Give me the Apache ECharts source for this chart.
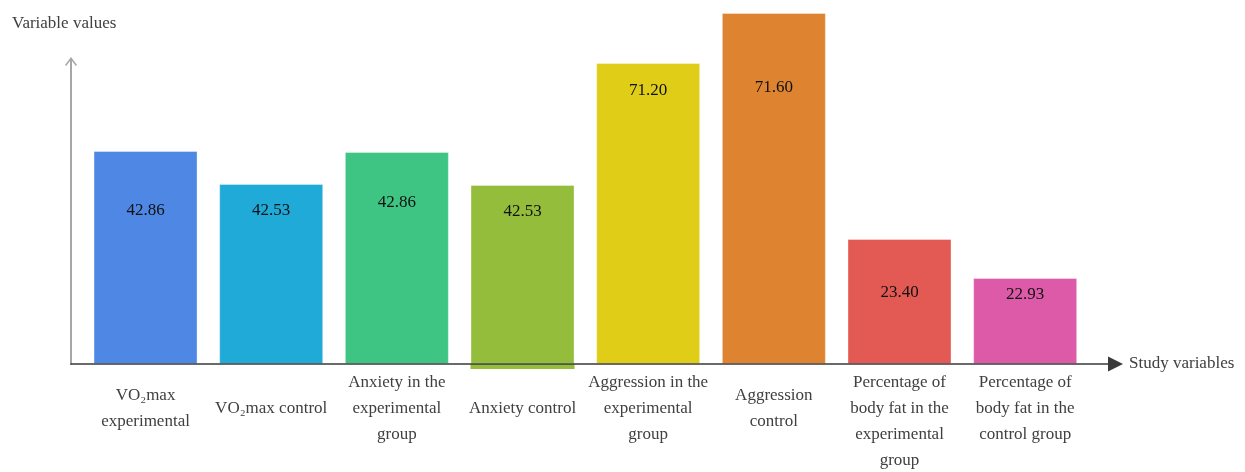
<!DOCTYPE html>
<html>
<head>
<meta charset="utf-8">
<script src="https://cdn.jsdelivr.net/npm/echarts@6/dist/echarts.min.js"></script>
<style>
  html, body { margin: 0; padding: 0; background: #fff; }
  #chart { width: 1245px; height: 472px; }
</style>
</head>
<body>
<div id="chart"></div>
<script>
// ---- data ----
const categories = [
  'VO₂max\nexperimental',
  'VO₂max control',
  'Anxiety in the\nexperimental\ngroup',
  'Anxiety control',
  'Aggression in the\nexperimental\ngroup',
  'Aggression\ncontrol',
  'Percentage of\nbody fat in the\nexperimental\ngroup',
  'Percentage of\nbody fat in the\ncontrol group'
];
const valueLabels = ['42.86', '42.53', '42.86', '42.53', '71.20', '71.60', '23.40', '22.93'];
// bar heights as drawn in the picture (drawing units)
const barHeights = [213, 180, 212, 179, 301, 351, 125, 86];
// small part of a bar drawn below the baseline in the picture
const belowBaseline = [null, null, null, -5, null, null, null, null];
const yAxisTitle = 'Variable values';
const xAxisTitle = 'Study variables';

// ---- styles ----
const barColors = ['#4e87e4', '#20aad8', '#3ec583', '#93bd3a', '#dfcd18', '#de8431', '#e35a54', '#dd5aa8'];
const labelOffsets = [60, 27, 51, 27, 28, 75, 54, 17];
const serif = 'Liberation Serif, Times New Roman, serif';
const textGrey = '#404040';

const chart = echarts.init(document.getElementById('chart'), null, { renderer: 'canvas' });

const mainData = barHeights.map((h, i) => ({
  value: h,
  itemStyle: { color: barColors[i], borderColor: 'rgba(255,255,255,0.35)', borderWidth: 1 },
  label: {
    show: true,
    position: ['50%', labelOffsets[i]],
    align: 'center',
    verticalAlign: 'middle',
    formatter: () => valueLabels[i]
  }
}));

const lowData = belowBaseline.map((v, i) => v == null ? null : ({
  value: v,
  itemStyle: { color: barColors[i] }
}));

const option = {
  animation: false,
  backgroundColor: '#ffffff',
  title: {
    text: yAxisTitle,
    left: 7,
    top: 10,
    textStyle: { fontFamily: serif, fontSize: 17, fontWeight: 'normal', color: textGrey }
  },
  grid: [
    { left: 82.7, right: 157, top: 13, bottom: 103, containLabel: false, outerBoundsMode: 'none' },
    { left: 71, right: 129.5, top: 61.5, bottom: 108, containLabel: false, outerBoundsMode: 'none' }
  ],
  xAxis: [
    {
      type: 'category',
      gridIndex: 0,
      data: categories,
      axisLine: { show: false, onZero: false },
      axisTick: { show: false },
      splitLine: { show: false },
      axisLabel: {
        interval: 0,
        margin: 40,
        verticalAlign: 'middle',
        fontFamily: serif,
        fontSize: 17,
        lineHeight: 26,
        color: textGrey,
        // long (4-line) labels start at the same top line as 3-line ones
        formatter: (v) => v.split('\n').length >= 4 ? '\n' + v : v
      }
    },
    {
      type: 'value',
      gridIndex: 1,
      min: 0,
      max: 1,
      z: 5,
      name: xAxisTitle,
      nameLocation: 'end',
      nameGap: 13.5,
      nameTextStyle: { fontFamily: serif, fontSize: 17, color: textGrey, verticalAlign: 'middle' },
      axisLine: {
        show: true,
        onZero: false,
        symbol: ['none', 'triangle'],
        symbolSize: [15, 15],
        lineStyle: { color: '#3a3a3a', width: 1.6 }
      },
      axisTick: { show: false },
      axisLabel: { show: false },
      splitLine: { show: false }
    }
  ],
  yAxis: [
    {
      type: 'value',
      gridIndex: 0,
      min: -5,
      max: 351,
      show: false
    },
    {
      type: 'value',
      gridIndex: 1,
      min: 0,
      max: 1,
      z: 4,
      axisLine: {
        show: true,
        onZero: false,
        symbol: ['none', 'path://M0,8 L6,0 L12,8 L10.8,9 L6,2.4 L1.2,9 Z M5.1,1.5 L6.9,1.5 L6.9,9 L5.1,9 Z'],
        symbolSize: [12, 9],
        lineStyle: { color: '#a6a6a6', width: 2 }
      },
      axisTick: { show: false },
      axisLabel: { show: false },
      splitLine: { show: false }
    }
  ],
  series: [
    {
      type: 'bar',
      xAxisIndex: 0,
      yAxisIndex: 0,
      stack: 'bars',
      barWidth: 104,
      data: mainData,
      label: {
        fontFamily: serif,
        fontSize: 17,
        color: '#111111'
      }
    },
    {
      type: 'bar',
      xAxisIndex: 0,
      yAxisIndex: 0,
      stack: 'bars',
      barWidth: 104,
      data: lowData
    }
  ]
};

chart.setOption(option);
</script>
</body>
</html>
